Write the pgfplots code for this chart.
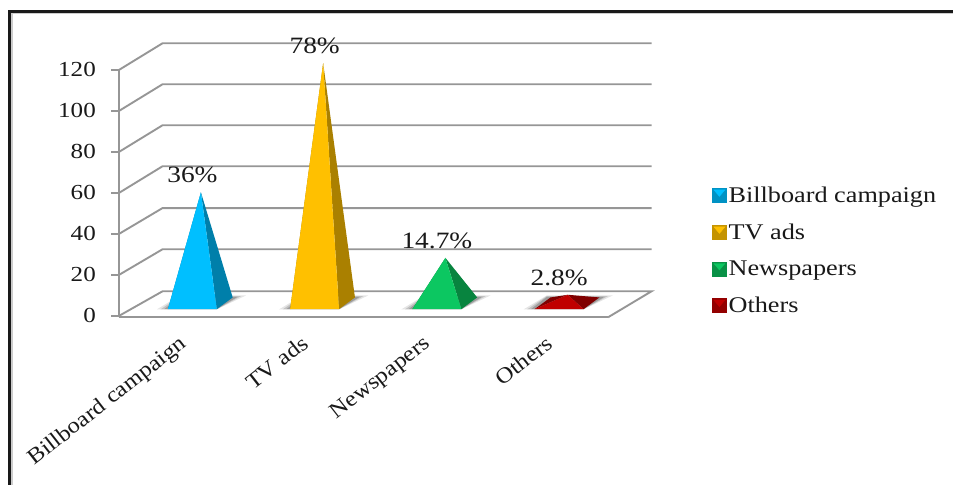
\documentclass[border=0pt]{standalone}
\usepackage{pgfplots}
\pgfplotsset{compat=1.18}
\usepackage{fontspec}
\setmainfont[FakeStretch=1.17]{Liberation Serif}
\newfontfamily\catfont[FakeStretch=1.12]{Liberation Serif}
\definecolor{wallgray}{HTML}{969696}
\definecolor{blueF}{HTML}{00BFFF}\definecolor{blueS}{HTML}{007FAA}
\definecolor{yelF}{HTML}{FFC000}\definecolor{yelS}{HTML}{AA8000}
\definecolor{grnF}{HTML}{0CC761}\definecolor{grnS}{HTML}{08843F}
\definecolor{redF}{HTML}{C00000}\definecolor{redS}{HTML}{800000}

% One 3-D pyramid: #1 category index, #2 count, #3 printed share, #4 front colour, #5 side colour
\newcommand{\pyramid}[5]{%
  \pgfmathsetmacro{\fl}{#1+0.40}\pgfmathsetmacro{\fr}{#1+0.80}%
  \pgfmathsetmacro{\bl}{#1+0.53}\pgfmathsetmacro{\br}{#1+0.93}%
  \pgfmathsetmacro{\ax}{#1+0.67}\pgfmathsetmacro{\ay}{#2+6.3}%
  % soft cast shadow on the floor
  \pgfmathsetmacro{\sa}{#1+0.31}\pgfmathsetmacro{\sb}{#1+1.04}\pgfmathsetmacro{\sc}{#1+0.50}%
  \addplot[draw=none,fill=black,fill opacity=0.10,forget plot] coordinates {(\sa,3.2) (\fr,3.2) (\sb,10) (\sc,10)} --cycle;
  \pgfmathsetmacro{\sa}{#1+0.34}\pgfmathsetmacro{\sb}{#1+1.00}%
  \addplot[draw=none,fill=black,fill opacity=0.15,forget plot] coordinates {(\sa,3.2) (\fr,3.2) (\sb,9.7) (\sc,9.7)} --cycle;
  \pgfmathsetmacro{\sa}{#1+0.37}\pgfmathsetmacro{\sb}{#1+0.97}%
  \addplot[draw=none,fill=black,fill opacity=0.20,forget plot] coordinates {(\sa,3.3) (\fr,3.3) (\sb,9.3) (\sc,9.3)} --cycle;
  % faces: back-left, right and front
  \addplot[draw=none,fill=#5,forget plot] coordinates {(\fl,3.3) (\bl,9) (\ax,\ay)} --cycle;
  \addplot[draw=none,fill=#5,forget plot] coordinates {(\fr,3.3) (\br,9) (\ax,\ay)} --cycle;
  \addplot[draw=none,fill=#4,forget plot] coordinates {(\fl,3.3) (\fr,3.3) (\ax,\ay)} --cycle;
  % share printed above the apex
  \addplot[draw=none,mark=none,forget plot,nodes near coords={#3},
    every node near coord/.append style={anchor=center,xshift=-8.5bp,yshift=17bp,inner sep=0pt,text=black!90,
      font=\fontsize{23.5}{25}\selectfont}] coordinates {(\ax,\ay)};
}
% Gridline running along the left wall and the back wall
\newcommand{\gridrow}[2]{\addplot[wallgray,line width=1.9bp,forget plot] coordinates {(0,#1) (0.356,#2) (4.356,#2)};}
% Bevelled legend key
\newcommand{\legkey}[2]{\addlegendimage{legend image code/.code={%
  \fill[#1] (-2bp,-7bp) rectangle (12bp,7bp);
  \fill[#2] (-0.5bp,5.5bp) -- (10.5bp,5.5bp) -- (5bp,-1bp) -- cycle;}}}

\begin{document}
\begin{tikzpicture}[x=1bp,y=1bp]
\useasboundingbox (0,0) rectangle (953,485);
% outer frame: open on the right and at the bottom
\fill[black!20] (10.5,0) rectangle (13,470.5);
\fill[black!20] (10.5,470.5) rectangle (953,472.8);
\fill[black!90] (7.7,0) rectangle (10.7,475.2);
\fill[black!90] (7.7,472.3) rectangle (953,475.2);
\begin{axis}[
  at={(119bp,169.1bp)},anchor=origin,
  scale only axis,width=489bp,height=247.4bp,
  xmin=0,xmax=4,ymin=-0.7,ymax=120,
  clip=false,
  axis x line*=bottom,axis y line*=left,
  axis line style={wallgray,line width=2bp,-},
  ytick={0,20,...,120},
  xtick={0.5,1.5,2.5,3.5},
  xticklabels={Billboard campaign,TV ads,Newspapers,Others},
  extra x ticks={0,1,2,3,4},
  extra x tick labels={},
  extra x tick style={major tick length=5bp,tick style={wallgray,line width=1.8bp}},
  major tick length=8bp,
  x tick style={draw=none},
  y tick style={wallgray,line width=1.9bp},
  tick align=outside,
  /pgf/number format/assume math mode=true,
  yticklabel style={font=\fontsize{21.5}{24}\selectfont,text=black!90,inner sep=0pt,xshift=-15bp},
  xticklabel style={font=\catfont\fontsize{22}{24}\selectfont,text=black!90,rotate=38,anchor=north east,inner sep=0pt,xshift=-7bp,yshift=-5.5bp},
  legend style={at={(593bp,1bp)},anchor=south west,draw=none,fill=none,
    font=\fontsize{22.5}{24}\selectfont,text=black!90,
    row sep=16bp,inner sep=0pt},
  legend cell align=left,
]
% left wall, back wall and floor
\gridrow{20}{32.5}\gridrow{40}{52.6}\gridrow{60}{73}\gridrow{80}{93}\gridrow{100}{113}\gridrow{120}{133}
\addplot[wallgray,line width=1.9bp,forget plot] coordinates {(0,0) (0.356,12) (4.356,12) (4,-0.7)};
\legkey{blueS!70!blueF}{blueF}\addlegendentry{Billboard campaign}
\legkey{yelS!70!yelF}{yelF}\addlegendentry{TV ads}
\legkey{grnS!80!grnF}{grnF}\addlegendentry{Newspapers}
\legkey{redS!70!redF}{redF}\addlegendentry{Others}
% counts out of 150 respondents, with their printed shares
\pyramid{0}{54}{36\%}{blueF}{blueS}
\pyramid{1}{117}{78\%}{yelF}{yelS}
\pyramid{2}{22}{14.7\%}{grnF}{grnS}
\pyramid{3}{4}{2.8\%}{redF}{redS}
\end{axis}
\end{tikzpicture}
\end{document}
